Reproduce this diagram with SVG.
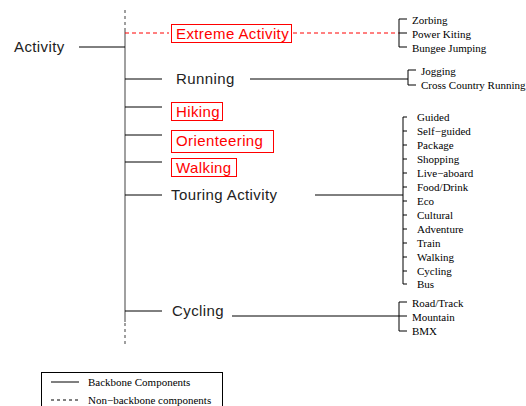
<svg xmlns="http://www.w3.org/2000/svg" width="526" height="406" viewBox="0 0 526 406">
<style>
.bg{fill:#fff}
.ln{stroke:#000;stroke-width:1;fill:none}
.bb{stroke:#808080;stroke-width:1.5;fill:none}
.bbd{stroke:#808080;stroke-width:1.5;fill:none;stroke-dasharray:3,3}
.rd{stroke:#f00;stroke-width:1;fill:none;stroke-dasharray:4,3}
.box{stroke:#f00;stroke-width:1;fill:#fff}
.s{font-family:"Liberation Sans","DejaVu Sans",sans-serif;font-size:15px;letter-spacing:0.4px;fill:#222}
.sr{font-family:"Liberation Sans","DejaVu Sans",sans-serif;font-size:15px;letter-spacing:0.4px;fill:#f00}
.t{font-family:"Liberation Serif","Times New Roman",serif;font-size:11px;fill:#000}
</style>
<rect class="bg" x="0" y="0" width="526" height="406"/>
<g id="connectors">
<path class="bbd" d="M125 10V28"/>
<path class="bb" d="M125 28V322"/>
<path class="bbd" d="M125 323V347"/>
<path class="ln" d="M79 47H125"/>
<path class="rd" d="M125 33H169M293 33H399"/>
<path class="ln" d="M125 79H162M250 79H408"/>
<path class="ln" d="M125 107H162"/>
<path class="ln" d="M125 135H162"/>
<path class="ln" d="M125 162H162"/>
<path class="ln" d="M125 195H162M315 195H403"/>
<path class="ln" d="M125 311H162M232 316H399"/>
<path class="ln" d="M407 19H399V47H407M399 33H407"/>
<path class="ln" d="M416 70H408V85H416"/>
<path class="ln" d="M407 117H403V284H407M403 131H407M403 145H407M403 159H407M403 173H407M403 187H407M403 201H407M403 215H407M403 229H407M403 243H407M403 257H407M403 271H407"/>
<path class="ln" d="M407 302H399V331H407M399 316H407"/>
</g>
<g id="activity"><text class="s" x="14" y="52">Activity</text></g>
<g id="extreme"><rect class="box" x="171.5" y="24.5" width="120" height="18"/><text class="sr" x="176" y="39">Extreme Activity</text></g>
<g id="running"><text class="s" x="176" y="84">Running</text></g>
<g id="hiking"><rect class="box" x="171.5" y="102.5" width="51" height="18"/><text class="sr" x="176" y="117">Hiking</text></g>
<g id="orienteering"><rect class="box" x="171.5" y="130.5" width="102" height="22"/><text class="sr" x="176" y="146">Orienteering</text></g>
<g id="walking"><rect class="box" x="171.5" y="158.5" width="65" height="18"/><text class="sr" x="176" y="173">Walking</text></g>
<g id="touring"><text class="s" x="171" y="200">Touring Activity</text></g>
<g id="cycling"><text class="s" x="172" y="316">Cycling</text></g>
<g id="extreme-items">
<text class="t" x="412" y="24">Zorbing</text>
<text class="t" x="412" y="38">Power Kiting</text>
<text class="t" x="412" y="52">Bungee Jumping</text>
</g>
<g id="running-items">
<text class="t" x="421" y="75">Jogging</text>
<text class="t" x="421" y="89">Cross Country Running</text>
</g>
<g id="touring-items">
<text class="t" x="417" y="121">Guided</text>
<text class="t" x="417" y="135">Self−guided</text>
<text class="t" x="417" y="149">Package</text>
<text class="t" x="417" y="163">Shopping</text>
<text class="t" x="417" y="177">Live−aboard</text>
<text class="t" x="417" y="191">Food/Drink</text>
<text class="t" x="417" y="205">Eco</text>
<text class="t" x="417" y="219">Cultural</text>
<text class="t" x="417" y="233">Adventure</text>
<text class="t" x="417" y="247">Train</text>
<text class="t" x="417" y="261">Walking</text>
<text class="t" x="417" y="275">Cycling</text>
<text class="t" x="417" y="288">Bus</text>
</g>
<g id="cycling-items">
<text class="t" x="412" y="307">Road/Track</text>
<text class="t" x="412" y="321">Mountain</text>
<text class="t" x="412" y="335">BMX</text>
</g>
<g id="legend">
<rect x="41.5" y="372.5" width="181" height="40" fill="#fff" stroke="#000" stroke-width="1"/>
<path class="ln" d="M51 382H79"/>
<path class="ln" d="M51 400H79" stroke-dasharray="3,3"/>
<text class="t" x="88" y="386">Backbone Components</text>
<text class="t" x="88" y="404">Non−backbone components</text>
</g>
</svg>
